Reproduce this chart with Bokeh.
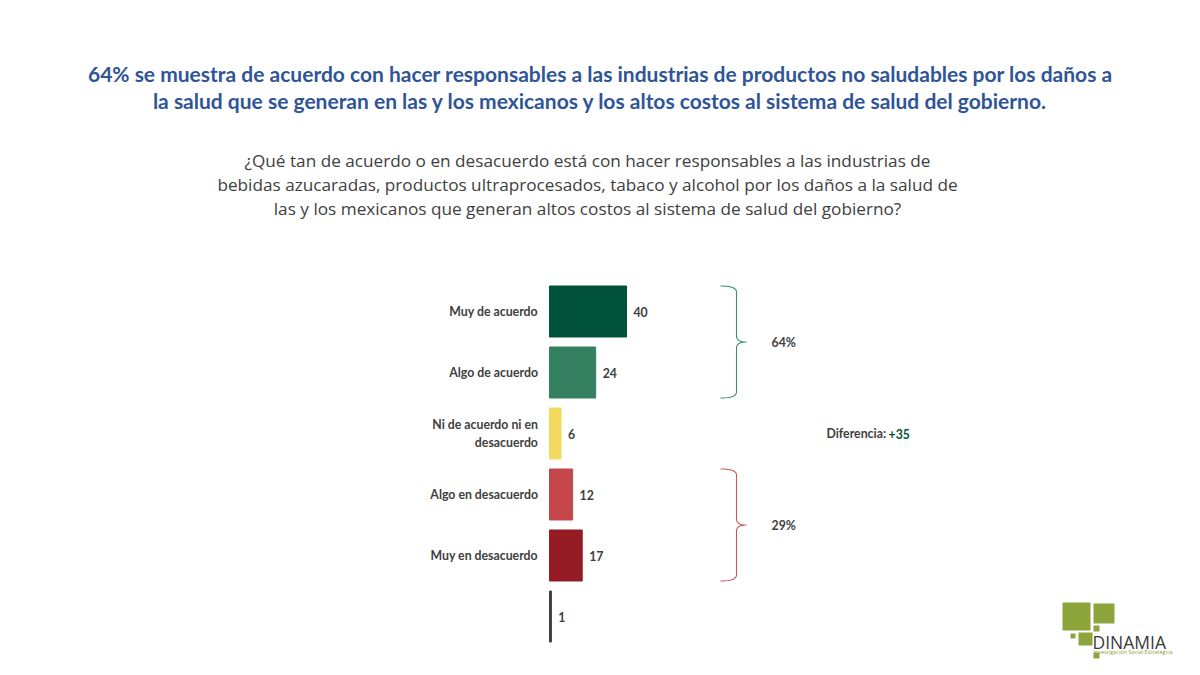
from bokeh.plotting import figure
from bokeh.models import Range1d, ColumnDataSource
from bokeh.core.properties import value
from bokeh.embed import file_html
from bokeh.resources import INLINE
import numpy as np

# ---------------- data ----------------
categories = ["Muy de acuerdo", "Algo de acuerdo", "Ni de acuerdo ni en\ndesacuerdo",
              "Algo en desacuerdo", "Muy en desacuerdo", ""]
values = [40, 24, 6, 12, 17, 1]
colors = ["#00533A", "#358061", "#F3DA5E", "#C5474A", "#951B24", "#404040"]
group_labels = ["64%", "29%"]
group_rows = [(0, 1), (3, 4)]
group_colors = ["#3E8C6E", "#C9575A"]
diff_label = "+35"

title_lines = [
    "64% se muestra de acuerdo con hacer responsables a las industrias de productos no saludables por los daños a",
    "la salud que se generan en las y los mexicanos y los altos costos al sistema de salud del gobierno.",
]
subtitle_lines = [
    "¿Qué tan de acuerdo o en desacuerdo está con hacer responsables a las industrias de",
    "bebidas azucaradas, productos ultraprocesados, tabaco y alcohol por los daños a la salud de",
    "las y los mexicanos que generan altos costos al sistema de salud del gobierno?",
]

# ---------------- geometry helpers ----------------
W, H = 1184, 659
PX_PER_UNIT = 1.925   # pixels per percentage point
X0_PX = 549           # image px where value 0 sits
ROW_PX = 61           # pixels between bar rows
Y0_PX = 311           # image px of first row centre
BAR_H = 0.836


def dx(px):  # image px -> data x
    return (px - X0_PX) / PX_PER_UNIT


def dy(py):  # image px -> data y (row index)
    return (py - Y0_PX) / ROW_PX


p = figure(width=W, height=H, output_backend="svg", toolbar_location=None,
           x_range=Range1d(dx(0), dx(W)), y_range=Range1d(dy(H), dy(0)),
           min_border=0, background_fill_color="white", border_fill_color="white")
p.axis.visible = False
p.grid.visible = False
p.outline_line_color = None

FONT = "Lato"
TXT = "#404040"
FS = "12.3px"

idx = list(range(len(values)))
src = ColumnDataSource(dict(y=idx, v=values, c=colors, cat=categories,
                            lab=[str(v) for v in values],
                            lx=[v + 3.6 for v in values]))
p.hbar(y="y", left=0, right="v", height=BAR_H, color="c", source=src)

p.text(x=-6, y="y", text="cat", source=src, text_align="right", text_baseline="middle",
       text_font=value(FONT), text_font_style="bold", text_font_size=FS,
       text_color=TXT, text_line_height=1.15)
p.text(x="lx", y="y", text="lab", source=src, text_align="left", text_baseline="middle",
       text_font=value(FONT), text_font_style="bold", text_font_size=FS, text_color=TXT)

# title
for i, line in enumerate(title_lines):
    p.text(x=[dx(600)], y=[dy(73 + 27 * i)], text=[line], text_align="center",
           text_baseline="middle", text_font=value(FONT), text_font_style="bold",
           text_font_size="21px", text_color="#2F5597")
for i, line in enumerate(subtitle_lines):
    p.text(x=[dx(587)], y=[dy(160 + 24 * i)], text=[line], text_align="center",
           text_baseline="middle", text_font=value("Open Sans"), text_font_size="17.2px",
           text_color=TXT)


# braces
def qbez(p0, c, p1, n=12):
    t = np.linspace(0, 1, n)
    return ((1 - t) ** 2 * p0[0] + 2 * (1 - t) * t * c[0] + t ** 2 * p1[0],
            (1 - t) ** 2 * p0[1] + 2 * (1 - t) * t * c[1] + t ** 2 * p1[1])


xa, xb, xt = dx(720), dx(736), dx(746)
r = 0.1
for (r0, r1), lab, col in zip(group_rows, group_labels, group_colors):
    yt = r0 - BAR_H / 2
    yb = r1 + BAR_H / 2
    ym = (yt + yb) / 2
    xs, ys = [], []
    for seg in [qbez((xa, yt), (xb, yt), (xb, yt + r)),
                qbez((xb, ym - r), (xb, ym), (xt, ym)),
                qbez((xt, ym), (xb, ym), (xb, ym + r)),
                qbez((xb, yb - r), (xb, yb), (xa, yb))]:
        xs.extend(seg[0]); ys.extend(seg[1])
    p.line(xs, ys, line_color=col, line_width=1.1)
    p.text(x=[dx(771)], y=[ym], text=[lab], text_align="left", text_baseline="middle",
           text_font=value(FONT), text_font_style="bold", text_font_size=FS, text_color=TXT)

p.text(x=[dx(826)], y=[2], text=["Diferencia:"], text_align="left", text_baseline="middle",
       text_font=value(FONT), text_font_style="bold", text_font_size=FS, text_color=TXT)
p.text(x=[dx(888)], y=[2], text=[diff_label], text_align="left", text_baseline="middle",
       text_font=value(FONT), text_font_style="bold", text_font_size=FS, text_color="#00583A")

# logo
LOGO = "#8DA43B"
sq = [(1062, 602, 1090, 630), (1093, 603, 1114, 623), (1093, 625, 1099, 631),
      (1078, 632, 1092, 645), (1070, 633, 1075, 638), (1093, 652, 1099, 658)]
p.quad(left=[dx(a) for a, b, c, d in sq], right=[dx(c) for a, b, c, d in sq],
       top=[dy(b) for a, b, c, d in sq], bottom=[dy(d) for a, b, c, d in sq],
       color=LOGO, line_color=None)
p.text(x=[dx(1092)], y=[dy(641)], text=["DINAMIA"], text_align="left", text_baseline="middle",
       text_font=value("Open Sans"), text_font_size="17.5px", text_color="#3A3A3A")
p.text(x=[dx(1093)], y=[dy(651)], text=["Investigación Social Estratégica"], text_align="left",
       text_baseline="middle", text_font=value("Open Sans"), text_font_size="5.5px", text_color=LOGO)

open("out.html", "w").write(file_html(p, INLINE))
